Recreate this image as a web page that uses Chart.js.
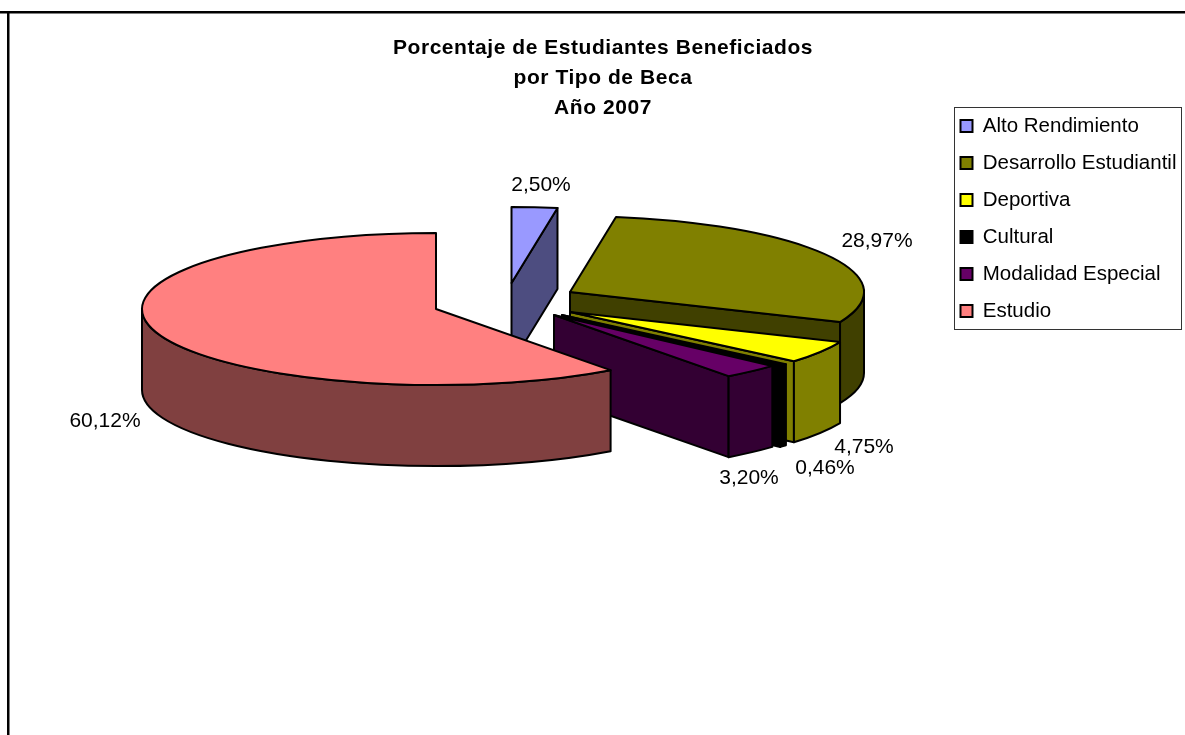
<!DOCTYPE html>
<html><head><meta charset="utf-8">
<style>html,body{margin:0;padding:0;background:#fff}canvas{display:block}</style>
<script src="https://cdn.jsdelivr.net/npm/chart.js@4"></script>
</head><body><canvas id="c" width="1185" height="735"></canvas>
<script>
const categories = ["Alto Rendimiento","Desarrollo Estudiantil","Deportiva","Cultural","Modalidad Especial","Estudio"];
const percentages = [2.50,28.97,4.75,0.46,3.20,60.12];
const titleLines = ["Porcentaje de Estudiantes Beneficiados","por Tipo de Beca","Año 2007"];
const topColors = ["#9999FF","#808000","#FFFF00","#000000","#660066","#FF8080"];
const wallColors = ["#4D4D80","#404000","#808000","#000000","#330033","#804040"];
const sliceOffsets = [[75.5,-27],[134,-18],[134,2],[126,5],[118,5],[0,-1]];
const labelAnchors = [[541,185],[877,241],[864,447],[825,468],[749,478],[105,421]];
const TILT = 76/294, DEPTH = 81, RADIUS = 294;
const FONT = '"Liberation Sans", Arial, sans-serif';

function polyEdge(ctx, x, y, r, a0, a1, dy){
  ctx.ellipse(x, y + dy, r, r*TILT, 0, a0, a1, a1 < a0);
}
const pie3d = {
  id:'pie3d',
  afterUpdate(chart){
    const l = chart.legend;
    l.left = 944; l.right = 1185; l.top = 99.25; l.bottom = 735; l.width = 241; l.height = 635.75;
    l.adjustHitBoxes();
    const t = chart.titleBlock;
    t.left = 0; t.right = 1206; t.top = 33; t.bottom = 123; t.width = 1206; t.height = 90;
    if (!t._spaced){
      const draw = t.draw;
      t.draw = function(a){ const c = this.ctx; c.save(); c.letterSpacing = '0.55px'; draw.call(this,a); c.restore(); };
      t._spaced = true;
    }
  },
  beforeDraw(chart){
    const ctx = chart.ctx;
    ctx.save();
    ctx.fillStyle = '#fff'; ctx.fillRect(0,0,1185,735);
    ctx.fillStyle = '#000';
    ctx.fillRect(0,11,1185,2.5);
    ctx.fillRect(7,11,2.5,724);
    ctx.strokeStyle = '#333'; ctx.lineWidth = 1;
    ctx.strokeRect(954.5,107.5,227,222);
    ctx.restore();
  },
  beforeDatasetsDraw(chart){
    const ctx = chart.ctx, meta = chart.getDatasetMeta(0);
    ctx.save();
    ctx.lineJoin = 'round'; ctx.lineWidth = 2; ctx.strokeStyle = '#000';
    meta.data.forEach((arc,i)=>{
      const x = arc.x + sliceOffsets[i][0], y = arc.y + sliceOffsets[i][1];
      const r = arc.outerRadius, a0 = arc.startAngle, a1 = arc.endAngle;
      const px = a => x + r*Math.cos(a), py = a => y + r*TILT*Math.sin(a);
      ctx.fillStyle = wallColors[i];
      // radial cut faces that look toward the viewer
      [[a0,-Math.cos(a0)],[a1,Math.cos(a1)]].forEach(([a,vis])=>{
        if (vis <= 0.001) return;
        ctx.beginPath();
        ctx.moveTo(x,y); ctx.lineTo(px(a),py(a));
        ctx.lineTo(px(a),py(a)+DEPTH); ctx.lineTo(x,y+DEPTH); ctx.closePath();
        ctx.fill(); ctx.stroke();
      });
      // outer rim, front half only
      const f0 = Math.max(a0,0), f1 = Math.min(a1,Math.PI);
      if (f1 > f0){
        ctx.beginPath();
        polyEdge(ctx,x,y,r,f0,f1,0);
        polyEdge(ctx,x,y,r,f1,f0,DEPTH);
        ctx.closePath(); ctx.fill(); ctx.stroke();
      }
      // top face through the library's own arc
      ctx.save();
      ctx.translate(x,y); ctx.scale(1,TILT); ctx.translate(-arc.x,-arc.y);
      arc.draw(ctx);
      ctx.restore();
      ctx.beginPath();
      ctx.moveTo(x,y);
      polyEdge(ctx,x,y,r,a0,a1,0);
      ctx.closePath(); ctx.stroke();
    });
    ctx.restore();
    return false;
  },
  afterDraw(chart){
    const ctx = chart.ctx;
    ctx.save();
    ctx.font = '21px '+FONT; ctx.fillStyle = '#000';
    ctx.textAlign = 'center'; ctx.textBaseline = 'middle';
    percentages.forEach((v,i)=>{
      ctx.fillText(v.toFixed(2).replace('.',',')+'%', labelAnchors[i][0], labelAnchors[i][1]);
    });
    ctx.restore();
  }
};
new Chart(document.getElementById('c'),{
  type:'pie',
  data:{labels:categories,datasets:[{data:percentages,backgroundColor:topColors,borderWidth:0,hoverOffset:0}]},
  options:{
    responsive:false,animation:false,radius:RADIUS,
    layout:{padding:{right:313,bottom:205}},
    plugins:{
      tooltip:{enabled:false},
      title:{display:true,text:titleLines,color:'#000',padding:0,
        font:{family:FONT,size:21,weight:'bold',lineHeight:30/21}},
      legend:{position:'chartArea',align:'start',
        labels:{boxWidth:12,boxHeight:12,padding:16.5,color:'#000',font:{family:FONT,size:20.5},
          generateLabels(chart){
            return Chart.overrides.pie.plugins.legend.labels.generateLabels(chart)
              .map(it=>Object.assign(it,{strokeStyle:'#000',lineWidth:2}));
          }}}
    }
  },
  plugins:[pie3d]
});
</script></body></html>
